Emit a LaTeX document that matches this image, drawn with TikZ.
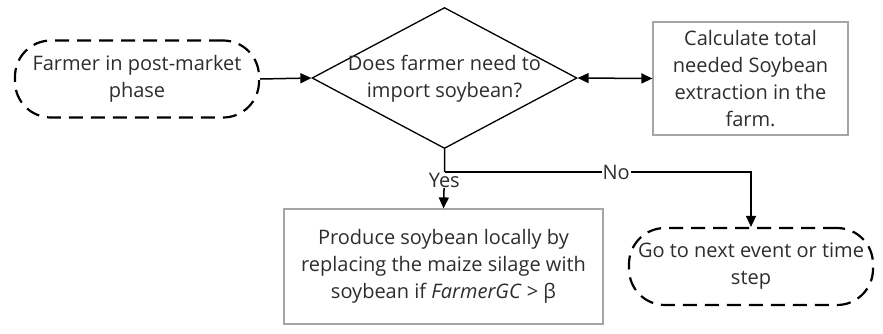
\documentclass[tikz,border=0pt]{standalone}
\usepackage{fontspec}
\setmainfont{Open Sans}
\usetikzlibrary{arrows.meta,shapes.geometric,calc}
\definecolor{txt}{RGB}{45,45,45}
\definecolor{boxline}{RGB}{165,165,165}
\tikzset{
  base/.style={font=\fontsize{20}{27}\selectfont, text=txt, align=center, inner sep=0pt},
  terminal/.style={base, draw=black, line width=2.2pt, dash pattern=on 14pt off 8pt,
    rounded corners=36pt, minimum width=244pt, minimum height=77pt},
  process/.style={base, draw=boxline, line width=1.2pt},
  decision/.style={base, draw=black, line width=1.3pt, diamond, aspect=1.88,
    minimum width=265pt, minimum height=141pt},
  tip/.style={Triangle[length=11pt,width=10pt]},
  flow/.style={draw=black, line width=1.5pt, -{Triangle[length=11pt,width=10pt]}},
  lbl/.style={base, fill=white, inner sep=1pt}
}
\begin{document}
\begin{tikzpicture}[x=1pt,y=-1pt]
  \useasboundingbox (0,0) rectangle (883,333);
  % start and end terminals
  \node[terminal] (start) at (137,79) {Farmer in post-market\\phase};
  \node[terminal] (stop) at (751,266.5) {Go to next event or time\\step};
  % decision
  \node[decision] (dec) at (444.5,78) {};
  \node[base] at (444.5,79) {Does farmer need to\\import soybean?};
  % process boxes
  \node[process, minimum width=195pt, minimum height=113pt] (calc) at (750.5,78.5)
    {Calculate total\\needed Soybean\\extraction in the\\farm.};
  \node[process, minimum width=319pt, minimum height=115pt] (prod) at (443.5,266.5)
    {Produce soybean locally by\\replacing the maize silage with\\soybean if \textit{FarmerGC} > β};
  % connectors
  \draw[flow] (start.east) -- (dec.west);
  \draw[flow, {Triangle[length=11pt,width=10pt]}-{Triangle[length=11pt,width=10pt]}] (dec.east) -- (calc.west);
  \coordinate (split) at ($(dec.south)+(0,23)$);
  \draw[flow] (dec.south) -- (split) -- node[lbl, pos=0.22] {Yes} (prod.north);
  \draw[flow] (split) -- node[lbl, pos=0.56] {No} (split -| stop.north) -- (stop.north);
\end{tikzpicture}
\end{document}
